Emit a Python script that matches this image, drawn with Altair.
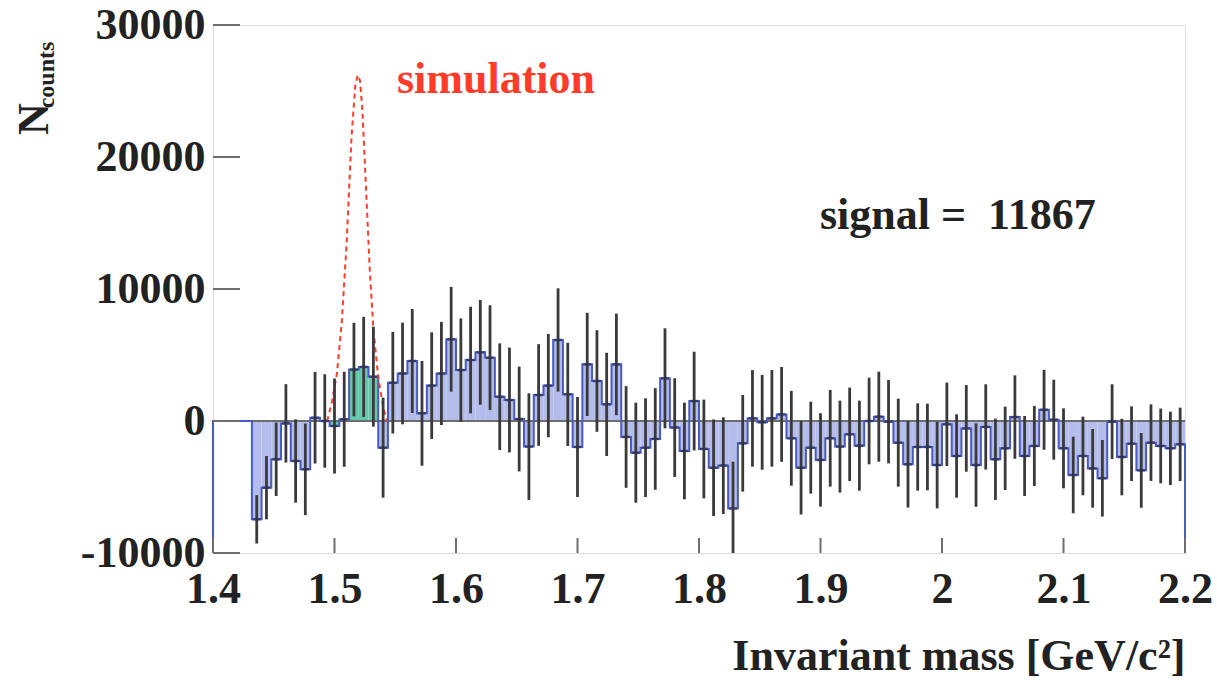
import altair as alt
import pandas as pd

# Histogram binning of the invariant-mass spectrum
x_min, x_max, n_bins = 1.4, 2.2, 100

# Background-subtracted counts per bin
counts = [
    0, 0, 0, 0, -7450, -5050, -2900, -180, -3030, -3660,
    250, 0, -380, 130, 3900, 4100, 3360, -2020, 2900, 3600,
    4550, 580, 2680, 3600, 6190, 3860, 4620, 5200, 4800, 1840,
    1590, 150, -1940, 1970, 2680, 6140, 2020, -1970, 4290, 3030,
    1260, 4290, -1210, -2400, -2020, -1360, 3230, -500, -2270, 1510,
    -2120, -3540, -3380, -6620, -1690, 200, -100, 200, 500, -1310,
    -3540, -2020, -2950, -1310, -1940, -1010, -1870, 0, 330, -50,
    -1640, -3280, -1970, -1970, -3340, -250, -2650, -560, -3340, -450,
    -2900, -2070, 300, -2650, -1890, 850, 100, -2070, -4090, -2650,
    -3590, -4340, -50, -2730, -1720, -3740, -1640, -1890, -2070, -1770,
]

# Statistical uncertainty per bin (0 = empty bin, no error bar)
errors = [
    0, 0, 0, 0, 1830, 2400, 2780, 2970, 3160, 3470,
    3470, 3540, 3600, 3600, 3540, 3790, 3790, 3790, 3850, 3850,
    3940, 3970, 4040, 3910, 3970, 3910, 4040, 3970, 3970, 4040,
    3970, 3970, 4040, 3850, 3910, 3910, 3910, 3790, 3910, 3850,
    3910, 3850, 3850, 3790, 3740, 3850, 3790, 3740, 3660, 3740,
    3740, 3660, 3660, 3540, 3660, 3660, 3590, 3660, 3590, 3590,
    3540, 3480, 3540, 3660, 3480, 3540, 3410, 3280, 3410, 3160,
    3330, 3280, 3310, 3280, 3280, 3160, 3160, 3280, 3160, 3230,
    3080, 3160, 3160, 3030, 3030, 3030, 3030, 3030, 2900, 2980,
    2980, 2900, 2830, 2900, 2830, 2830, 2900, 2830, 2780, 2780,
]

# Bins inside the signal window (inclusive)
signal_first, signal_last = 12, 16

# Simulated line shape
sim_mass = [1.494, 1.498, 1.502, 1.506, 1.510, 1.514, 1.517, 1.519,
            1.521, 1.523, 1.526, 1.529, 1.532, 1.536, 1.540, 1.543]
sim_counts = [0, 1500, 3600, 7500, 13500, 21500, 25300, 26200,
              25800, 23500, 17500, 11500, 7000, 3300, 1100, 0]

x_ticks = [1.4, 1.5, 1.6, 1.7, 1.8, 1.9, 2.0, 2.1, 2.2]
y_ticks = [-10000, 0, 10000, 20000, 30000]
y_min, y_max = -10000, 30000

x_title = "Invariant mass [GeV/c²]"
sim_label = "simulation"
signal_label = "signal =\u00a0\u00a011867"

FONT = "Liberation Serif"
W, H = 972, 528

bw = (x_max - x_min) / n_bins
hist = pd.DataFrame({
    "lo": [x_min + i * bw for i in range(n_bins)],
    "hi": [x_min + (i + 1) * bw for i in range(n_bins)],
    "mid": [x_min + (i + 0.5) * bw for i in range(n_bins)],
    "count": counts,
    "err": errors,
    "zone": ["signal" if signal_first <= i <= signal_last else "bg" for i in range(n_bins)],
})

# Outline of the histogram, closed down to the axis minimum at both ends
outline_m = [x_min] + list(hist["lo"]) + [x_max, x_max]
outline_c = [y_min] + counts + [counts[-1], y_min]
outline = pd.DataFrame({"m": outline_m, "c": outline_c, "k": range(len(outline_m))})

sim = pd.DataFrame({"m": sim_mass, "c": sim_counts})
xt = pd.DataFrame({"v": x_ticks})
yt = pd.DataFrame({"v": y_ticks})


def xenc(field):
    return alt.X(
        field,
        type="quantitative",
        scale=alt.Scale(domain=[x_min, x_max], nice=False, zero=False),
        axis=alt.Axis(
            values=x_ticks, format="~g", ticks=False, domain=False, grid=False,
            labelFont=FONT, labelFontWeight="bold", labelFontSize=44,
            labelColor="#222222", labelPadding=14, labelFlush=False, labelOverlap=False,
            title=x_title, titleFont=FONT, titleFontWeight="bold", titleFontSize=44,
            titleColor="#222222", titleX=W, titleY=116, titleAlign="right",
            titleBaseline="alphabetic", titleAngle=0,
        ),
    )


def yenc(field):
    return alt.Y(
        field,
        type="quantitative",
        scale=alt.Scale(domain=[y_min, y_max], nice=False, zero=False),
        axis=alt.Axis(
            values=y_ticks, labelExpr="'' + datum.value", ticks=False, domain=False,
            grid=False, labelFont=FONT, labelFontWeight="bold", labelFontSize=44,
            labelColor="#222222", labelPadding=8, labelFlush=False, labelOverlap=False,
            title=None,
        ),
    )


base = alt.Chart(hist)

fill = base.mark_rect().encode(
    x=xenc("lo"),
    x2="hi",
    y=yenc("count"),
    y2=alt.datum(0),
    color=alt.Color("zone:N", scale=alt.Scale(domain=["bg", "signal"],
                                              range=["#b3bcea", "#62c9aa"]), legend=None),
)

zero_line = alt.Chart(yt).transform_filter("datum.v == 0").mark_rule(
    color="#6e6e6e", strokeWidth=2
).encode(y=yenc("v"))

hist_line = alt.Chart(outline).mark_line(
    interpolate="step-after", color="#4a5bc0", strokeWidth=2
).encode(x=xenc("m"), y=yenc("c"), order="k:Q")

sim_line = alt.Chart(sim).mark_line(
    color="#ff3b2b", strokeWidth=2, strokeDash=[5, 4]
).encode(x=xenc("m"), y=yenc("c"))

err_bars = base.transform_filter("datum.err > 0").transform_calculate(
    e_lo="datum.count - datum.err", e_hi="datum.count + datum.err"
).mark_rule(color="#3a3a3a", strokeWidth=2.8, clip=True).encode(
    x=xenc("mid"), y=yenc("e_lo:Q"), y2="e_hi:Q"
)

levels = base.transform_filter("datum.err > 0").mark_tick(
    orient="horizontal", size=8, thickness=2.5, color="#2b2f55"
).encode(x=xenc("mid"), y=yenc("count"))

y_tick_marks = alt.Chart(yt).mark_rule(color="#6e6e6e", strokeWidth=2).encode(
    y=yenc("v"), x=alt.value(0), x2=alt.value(27)
)
x_tick_marks = alt.Chart(xt).mark_rule(color="#6e6e6e", strokeWidth=2).encode(
    x=xenc("v"), y=alt.value(H), y2=alt.value(H - 15)
)

sim_text = alt.Chart(pd.DataFrame({"t": [sim_label]})).mark_text(
    font=FONT, fontWeight="bold", fontSize=44, color="#ff3b2b",
    align="left", baseline="alphabetic"
).encode(text="t:N", x=alt.value(184), y=alt.value(68))

signal_text = alt.Chart(pd.DataFrame({"t": [signal_label]})).mark_text(
    font=FONT, fontWeight="bold", fontSize=44, color="#222222",
    align="left", baseline="alphabetic"
).encode(text="t:N", x=alt.value(607), y=alt.value(204))

y_title_main = alt.Chart(pd.DataFrame({"t": ["N"]})).mark_text(
    font=FONT, fontWeight="bold", fontSize=44, color="#222222",
    align="center", baseline="middle", angle=270
).encode(text="t:N", x=alt.value(-178), y=alt.value(94))

y_title_sub = alt.Chart(pd.DataFrame({"t": ["counts"]})).mark_text(
    font=FONT, fontWeight="bold", fontSize=24, color="#222222",
    align="center", baseline="middle", angle=270
).encode(text="t:N", x=alt.value(-166), y=alt.value(50))

chart = alt.layer(
    fill, zero_line, hist_line, sim_line, err_bars, levels,
    y_tick_marks, x_tick_marks, sim_text, signal_text, y_title_main, y_title_sub,
).properties(
    width=W, height=H,
    autosize=alt.AutoSizeParams(type="none"),
    padding={"left": 213, "top": 25, "right": 32, "bottom": 127},
).configure_view(
    stroke="#7a7a7a", strokeWidth=2
).configure(background="white")

chart.save("out.html", embed_options={"renderer": "svg", "actions": False})
